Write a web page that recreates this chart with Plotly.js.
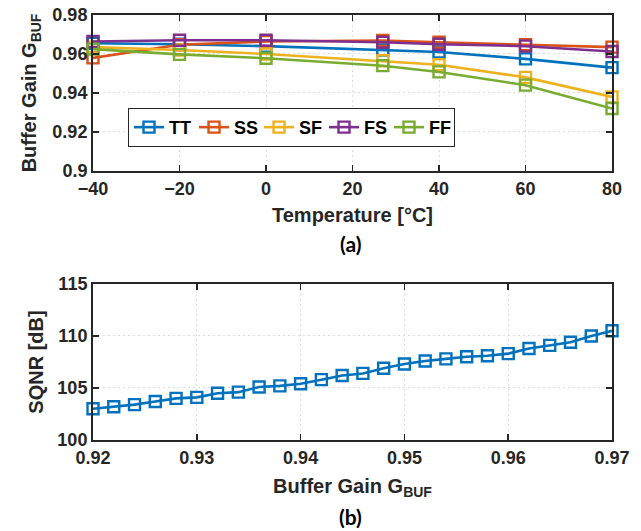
<!DOCTYPE html>
<html><head><meta charset="utf-8">
<script src="https://cdn.plot.ly/plotly-3.0.1.min.js"></script>
<style>html,body{margin:0;padding:0;background:#fff}#plot{width:641px;height:531px}</style>
</head><body><div id="plot"></div>
<script>
const temps = [-40, -20, 0, 27, 40, 60, 80];
const corners = ['TT', 'SS', 'SF', 'FS', 'FF'];
const gainTT = [0.9655, 0.965, 0.964, 0.962, 0.961, 0.9575, 0.953];
const gainSS = [0.958, 0.9647, 0.9664, 0.9669, 0.966, 0.9648, 0.9635];
const gainSF = [0.9635, 0.962, 0.960, 0.9565, 0.9545, 0.948, 0.938];
const gainFS = [0.9664, 0.967, 0.967, 0.966, 0.965, 0.964, 0.9613];
const gainFF = [0.9625, 0.9598, 0.9578, 0.954, 0.9508, 0.944, 0.932];
const bufGain = [0.920,0.922,0.924,0.926,0.928,0.930,0.932,0.934,0.936,0.938,0.940,0.942,0.944,0.946,0.948,0.950,0.952,0.954,0.956,0.958,0.960,0.962,0.964,0.966,0.968,0.970];
const sqnr = [103.0,103.2,103.4,103.7,104.0,104.1,104.5,104.6,105.1,105.2,105.4,105.8,106.2,106.4,106.9,107.3,107.6,107.8,108.0,108.1,108.3,108.8,109.1,109.4,110.0,110.5];
const colors = ['#0072BD', '#D95319', '#EDB120', '#7E2F8E', '#77AC30'];
const gains = [gainTT, gainSS, gainSF, gainFS, gainFF];

const traces = corners.map((c, i) => ({
  x: temps, y: gains[i], name: c, type: 'scatter', mode: 'lines+markers',
  xaxis: 'x', yaxis: 'y', cliponaxis: false,
  line: {color: colors[i], width: 2.6},
  marker: {symbol: 'square-open', size: 11, color: colors[i], line: {width: 2.4, color: colors[i]}}
}));
traces.push({
  x: bufGain, y: sqnr, name: 'SQNR', type: 'scatter', mode: 'lines+markers',
  xaxis: 'x2', yaxis: 'y2', cliponaxis: false, showlegend: false,
  line: {color: colors[0], width: 2.6},
  marker: {symbol: 'square-open', size: 11, color: colors[0], line: {width: 2.4, color: colors[0]}}
});

const fontFam = 'Liberation Sans, Arial, sans-serif';
const tickFont = {family: fontFam, size: 18, color: '#262626', weight: 'bold'};
const titleFont = {family: fontFam, size: 20, color: '#262626', weight: 'bold'};
const labelFont = {family: 'Lato, Open Sans, sans-serif', size: 21, color: '#000', weight: 'bold'};
const axBase = {
  showline: true, linecolor: '#262626', linewidth: 2, mirror: 'ticks',
  ticks: 'inside', ticklen: 6, tickwidth: 1.5, tickcolor: '#262626',
  showgrid: true, gridcolor: '#dcdcdc', griddash: '2px,3px', gridwidth: 1,
  zeroline: false, tickfont: tickFont, automargin: false
};
const layout = {
  width: 641, height: 531,
  margin: {l: 0, r: 0, t: 0, b: 0},
  paper_bgcolor: '#fff', plot_bgcolor: '#fff',
  showlegend: true,
  legend: {orientation: 'h', x: 0.1997, y: 0.76, xanchor: 'left', yanchor: 'middle',
    bordercolor: '#262626', borderwidth: 1, bgcolor: '#fff',
    font: {family: fontFam, size: 18, color: '#000', weight: 'bold'},
    itemwidth: 30, entrywidth: 20, entrywidthmode: 'pixels', tracegroupgap: 0},
  xaxis: Object.assign({}, axBase, {domain: [0.1451, 0.9548], anchor: 'y', range: [-40, 80],
    tickvals: [-40, -20, 0, 20, 40, 60, 80],
    title: {text: 'Temperature [°C]', font: titleFont, standoff: 10}}),
  yaxis: Object.assign({}, axBase, {domain: [0.678, 0.9718], anchor: 'x', range: [0.9, 0.98],
    tickvals: [0.9, 0.92, 0.94, 0.96, 0.98], ticktext: ['0.9', '0.92', '0.94', '0.96', '0.98'],
    title: {text: 'Buffer Gain G<sub>BUF</sub>', font: titleFont, standoff: 10}}),
  xaxis2: Object.assign({}, axBase, {domain: [0.1451, 0.9548], anchor: 'y2', range: [0.92, 0.97],
    tickvals: [0.92, 0.93, 0.94, 0.95, 0.96, 0.97],
    title: {text: 'Buffer Gain G<sub>BUF</sub>', font: titleFont, standoff: 12}}),
  yaxis2: Object.assign({}, axBase, {domain: [0.1714, 0.4652], anchor: 'x2', range: [100, 115],
    tickvals: [100, 105, 110, 115],
    title: {text: 'SQNR [dB]', font: titleFont, standoff: 8}}),
  annotations: [
    {text: '(a)', xref: 'paper', yref: 'paper', x: 0.5465, y: 1 - 243/531, yanchor: 'middle', showarrow: false, font: labelFont},
    {text: '(b)', xref: 'paper', yref: 'paper', x: 0.5465, y: 1 - 516/531, yanchor: 'middle', showarrow: false, font: labelFont}
  ]
};
Plotly.newPlot('plot', traces, layout, {displayModeBar: false, staticPlot: true});
</script></body></html>
